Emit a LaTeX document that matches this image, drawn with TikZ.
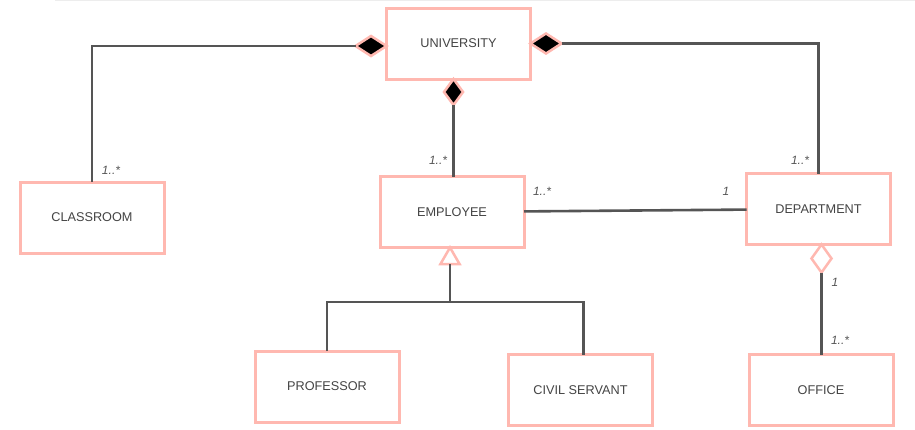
\documentclass[tikz,border=0pt]{standalone}
\usepackage{fontspec}
\setmainfont{Liberation Sans}
\usetikzlibrary{shapes.geometric}
\definecolor{boxpink}{HTML}{FFB8B0}
\definecolor{linegray}{HTML}{555555}
\definecolor{textgray}{HTML}{444444}
\begin{document}
\begin{tikzpicture}[x=1pt,y=-1pt,
  umlbox/.style={draw=boxpink, line width=3pt, fill=white, minimum width=144pt, minimum height=71pt, inner sep=0pt, outer sep=0pt, font=\fontsize{12.7}{14}\selectfont, text=textgray},
  conn/.style={draw=linegray, line width=2.6pt},
  compH/.style={shape=diamond, draw=boxpink, fill=black, line width=2.5pt, minimum width=31pt, minimum height=20pt, inner sep=0pt, outer sep=0pt},
  compV/.style={shape=diamond, draw=boxpink, fill=black, line width=2.5pt, minimum width=19pt, minimum height=26pt, inner sep=0pt, outer sep=0pt},
  aggV/.style={shape=diamond, draw=boxpink, fill=white, line width=2.5pt, minimum width=20pt, minimum height=28pt, inner sep=0pt, outer sep=0pt},
  gentri/.style={regular polygon, regular polygon sides=3, draw=boxpink, fill=white, line width=2.5pt, minimum size=22pt, inner sep=0pt, outer sep=0pt},
  mult/.style={font=\itshape\fontsize{12}{14}\selectfont, text=linegray, inner sep=0pt}
]
\useasboundingbox (0,0) rectangle (915,429);
\fill[white] (0,0) rectangle (915,429);
\draw[color=black!7, line width=0.8pt] (55,0.5) -- (915,0.5);

% classes
\node[umlbox] (uni)  at (458.5,43.5) {UNIVERSITY};
\node[umlbox] (emp)  at (452,212)    {EMPLOYEE};
\node[umlbox] (dep)  at (818.5,209)  {DEPARTMENT};
\node[umlbox] (off)  at (821,390)    {OFFICE};
\node[umlbox] (cls)  at (92,217.5)   {CLASSROOM};
\node[umlbox] (prof) at (327,386.5)  {PROFESSOR};
\node[umlbox] (civ)  at (580.5,390)  {CIVIL SERVANT};

% composition diamonds
\node[compH, anchor=east]  (dl) at ([yshift=-2.5pt]uni.west) {};
\node[compH, anchor=west]  (dr) at (uni.east) {};
\node[compV, anchor=north] (db) at ([xshift=-5pt]uni.south) {};
% aggregation diamond
\node[aggV, anchor=north] (agg) at ([xshift=3pt]dep.south) {};
% generalization triangle
\node[gentri, anchor=corner 1] (tri) at ([xshift=-2pt]emp.south) {};
\coordinate (gj) at (tri.south |- 0,302);

% connectors
\draw[conn] (dl.west) -| (cls.north);
\draw[conn] (dr.east) -| (dep.north);
\draw[conn] (db.south) -- (db.south |- emp.north);
\draw[conn] (emp) -- (dep);
\draw[conn] (agg.south) -- (agg.south |- off.north);
\draw[conn] (tri.south) -- (gj);
\draw[conn] (prof.north) |- (gj) -| ([xshift=3pt]civ.north);

% multiplicities
\node[mult] (m1) at (111,170) {1..*};
\node[mult] (m2) at (438,160) {1..*};
\node[mult] (m3) at (542,191) {1..*};
\node[mult] (m4) at (726,191) {1};
\node[mult] (m5) at (800,160) {1..*};
\node[mult] (m6) at (835,282) {1};
\node[mult] (m7) at (840,340) {1..*};
\end{tikzpicture}
\end{document}
